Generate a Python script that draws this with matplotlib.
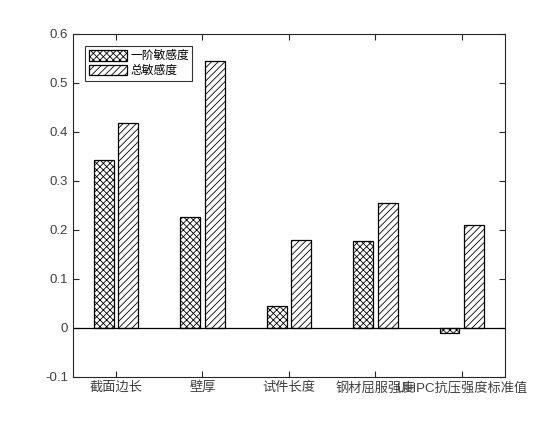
import numpy as np
import matplotlib.pyplot as plt

plt.rcParams['font.family'] = ['Liberation Sans', 'Noto Sans CJK SC', 'DejaVu Sans']
plt.rcParams['hatch.linewidth'] = 0.6

categories = ['截面边长', '壁厚', '试件长度', '钢材屈服强度', 'UHPC抗压强度标准值']
first_order = [0.343, 0.226, 0.045, 0.177, -0.010]
total_order = [0.418, 0.545, 0.180, 0.255, 0.210]
series_names = ['一阶敏感度', '总敏感度']

fig = plt.figure(figsize=(5.6, 4.21), dpi=100)
ax = fig.add_axes([0.13, 0.105, 0.772, 0.815])

x = np.arange(1, len(categories) + 1)
w = 0.23
off = 0.143
ax.bar(x - off, first_order, w, color='white', edgecolor='black', hatch='xxxxx',
       linewidth=0.9, label=series_names[0])
ax.bar(x + off, total_order, w, color='white', edgecolor='black', hatch='/////',
       linewidth=0.9, label=series_names[1])
ax.axhline(0, color='black', linewidth=0.9)

ax.set_xlim(0.5, 5.5)
ax.set_ylim(-0.1, 0.6)
ax.set_yticks(np.arange(-0.1, 0.61, 0.1))
ax.set_yticklabels(['-0.1', '0', '0.1', '0.2', '0.3', '0.4', '0.5', '0.6'])
ax.set_xticks(x)
ax.set_xticklabels(categories)
ax.tick_params(direction='in', top=True, right=True, length=4, width=0.8,
               labelsize=9.5, colors='#262626', labelcolor='#404040')
for s in ax.spines.values():
    s.set_linewidth(0.8)
    s.set_color('#262626')

leg = ax.legend(loc='upper left', bbox_to_anchor=(0.015, 0.98), fontsize=8.5,
                frameon=True, fancybox=False, edgecolor='black',
                handlelength=3.2, handleheight=1.0, borderpad=0.3,
                labelspacing=0.2, handletextpad=0.3)
leg.get_frame().set_linewidth(0.8)

fig.savefig('out.png', dpi=100)
